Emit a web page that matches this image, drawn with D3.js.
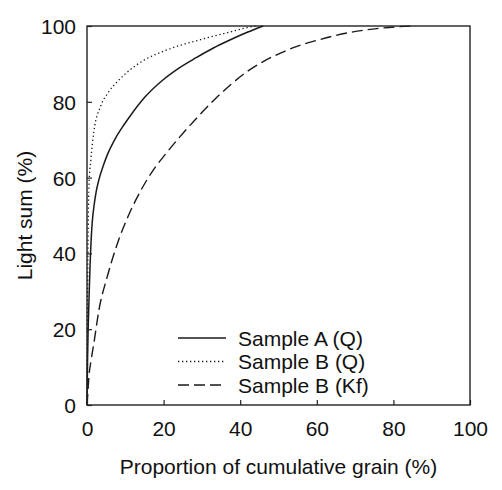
<!DOCTYPE html>
<html><head><meta charset="utf-8">
<script src="https://cdn.jsdelivr.net/npm/d3@7"></script>
<style>body{margin:0;background:#fff}svg{display:block}text{font-family:Arial,"Liberation Sans",sans-serif;fill:#111}</style>
</head><body>
<script>
const xTicks = [0,20,40,60,80,100];
const yTicks = [0,20,40,60,80,100];
const seriesNames = ["Sample A (Q)","Sample B (Q)","Sample B (Kf)"];
const sampleAQ = [[0,0],[0.15,12],[0.3,20],[0.5,27],[0.8,37],[1.1,44],[1.4,48.6],[1.8,52.3],[2.4,56.3],[3.1,59.4],[4.2,63],[5.3,66],[7.5,70.5],[9.7,74],[11.5,76.6],[14.9,81],[19.5,85.5],[24,88.9],[28.6,91.7],[33,94.2],[37.3,96.3],[42,98.4],[46,100]];
const sampleBQ = [[0,0],[0.1,20],[0.2,35],[0.35,50],[0.5,57.6],[1.0,64.6],[1.8,72.2],[3.5,78.7],[5.5,82.4],[7.9,85.3],[11.2,88.4],[14.9,91],[19.9,93.3],[24,94.8],[28.6,96.1],[33,97.3],[37.3,98.4],[41,99.4],[44,100]];
const sampleBKf = [[0,0],[0.1,1.3],[0.5,7.5],[1.1,12],[1.8,16.3],[3.1,25],[5.3,33.9],[7.9,42.5],[11,50.4],[14,56.5],[17.3,62],[20.5,66.2],[24.3,70.8],[28,75],[33,80.3],[37.5,84.5],[41.7,87.9],[46,90.6],[50.4,92.8],[55,94.7],[60,96.2],[64.5,97.4],[68.7,98.3],[73,99],[77.4,99.5],[81,99.8],[85,100]];
const series = [sampleAQ, sampleBQ, sampleBKf];
const dashes = [null, "1.3,2.7", "11,5"];
const widths = [1.5, 1.3, 1.4];

const W = 502, H = 490;
const m = {left:87, top:26, right:470, bottom:405};
const svg = d3.select("body").append("svg").attr("width",W).attr("height",H);
const x = d3.scaleLinear().domain([0,100]).range([m.left,m.right]);
const y = d3.scaleLinear().domain([0,100]).range([m.bottom,m.top]);

const line = d3.line().x(d=>x(d[0])).y(d=>y(d[1])).curve(d3.curveMonotoneX);
series.forEach((s,i)=>{
  svg.append("path").attr("d",line(s)).attr("fill","none").attr("stroke","#1a1a1a")
    .attr("stroke-width",widths[i]).attr("stroke-dasharray",dashes[i]);
});

// frame
svg.append("rect").attr("x",m.left).attr("y",m.top).attr("width",m.right-m.left).attr("height",m.bottom-m.top)
  .attr("fill","none").attr("stroke","#222").attr("stroke-width",1.4);

const fs = 21;
const xa = svg.append("g").attr("transform",`translate(0,${m.bottom})`)
  .call(d3.axisBottom(x).tickValues(xTicks).tickSize(-5).tickPadding(0).tickFormat(d3.format("d")));
xa.select(".domain").remove();
xa.selectAll("line").attr("stroke","#222").attr("stroke-width",1.2);
xa.selectAll("text").attr("y",31).attr("dy",0).style("font-size",fs+"px").attr("fill","#111").style("font-family","Arial, 'Liberation Sans', sans-serif");

const ya = svg.append("g").attr("transform",`translate(${m.left},0)`)
  .call(d3.axisLeft(y).tickValues(yTicks).tickSize(-5).tickPadding(0).tickFormat(d3.format("d")));
ya.select(".domain").remove();
ya.selectAll("line").attr("stroke","#222").attr("stroke-width",1.2);
ya.selectAll("text").attr("x",-11).attr("dy","0.36em").style("font-size",fs+"px").attr("fill","#111").style("font-family","Arial, 'Liberation Sans', sans-serif");

svg.append("text").attr("x",(m.left+m.right)/2).attr("y",474).attr("text-anchor","middle")
  .style("font-size",fs+"px").text("Proportion of cumulative grain (%)");
svg.append("text").attr("transform",`translate(32,${(m.top+m.bottom)/2}) rotate(-90)`).attr("text-anchor","middle")
  .style("font-size",fs+"px").text("Light sum (%)");

// legend
const legY = [338, 361.5, 385];
seriesNames.forEach((n,i)=>{
  svg.append("line").attr("x1",178).attr("x2",226).attr("y1",legY[i]).attr("y2",legY[i])
    .attr("stroke","#1a1a1a").attr("stroke-width",widths[i]).attr("stroke-dasharray",dashes[i]);
  svg.append("text").attr("x",238).attr("y",legY[i]+7.5).style("font-size",fs+"px").text(n);
});
</script>
</body></html>
